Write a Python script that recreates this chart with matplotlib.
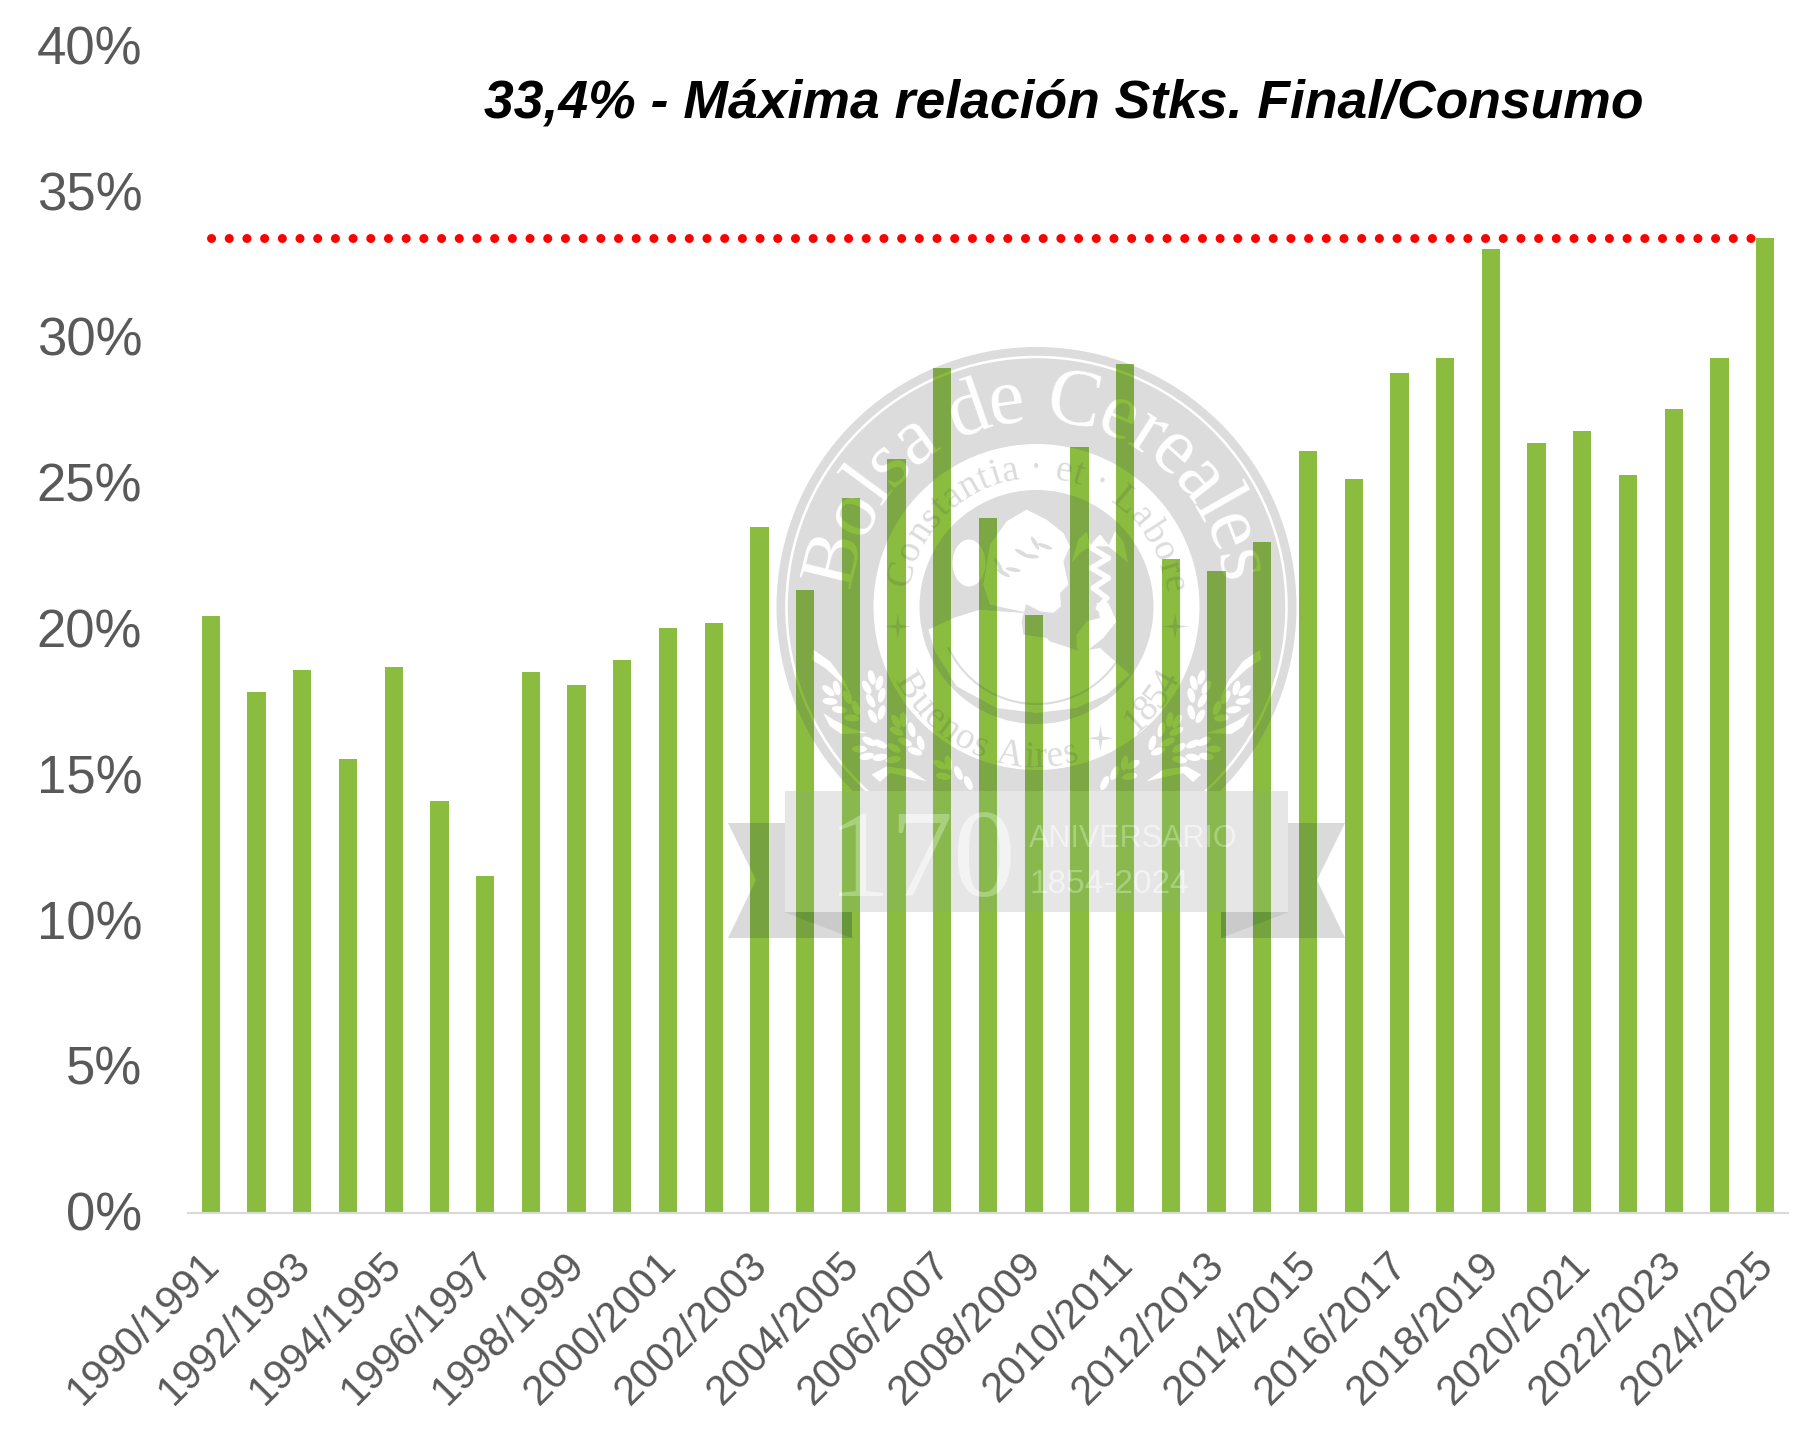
#!/usr/bin/env python3
# -*- coding: utf-8 -*-
import numpy as np
import matplotlib
matplotlib.use("Agg")
import matplotlib.pyplot as plt
from matplotlib.font_manager import FontProperties
from matplotlib.patches import Circle, Ellipse, Polygon, Rectangle
from matplotlib.path import Path
from matplotlib.textpath import text_to_path
from matplotlib.transforms import IdentityTransform, ScaledTranslation

# ------------------------------------------------------------
# Datos
# ------------------------------------------------------------
campanas = [f"{y}/{y + 1}" for y in range(1990, 2025)]
relacion = [20.45, 17.85, 18.6, 15.55, 18.7, 14.1, 11.55, 18.55, 18.1, 18.95,
            20.05, 20.2, 23.5, 21.35, 24.5, 25.85, 28.95, 23.8, 20.5, 26.25,
            29.1, 22.4, 22.0, 23.0, 26.1, 25.15, 28.8, 29.3, 33.05, 26.4,
            26.8, 25.3, 27.55, 29.3, 33.4]
maximo = 33.4
y_ticks = [0, 5, 10, 15, 20, 25, 30, 35, 40]
titulo = "33,4% - Máxima relación Stks. Final/Consumo"

W, H = 1816, 1429
VERDE = "#8ABD3F"
GRIS_TXT = "#595959"

plt.rcParams["font.family"] = ["Liberation Sans", "DejaVu Sans"]

# colores de la marca de agua: fuera y dentro de las barras
CAPA_FONDO = dict(fill="#DCDCDC", hole="#FFFFFF", ribbon="#E6E6E6", tail="#DADADA",
                  fold="#CACACA", label="#F3F3F3")
CAPA_BARRA = dict(fill="#7DA644", hole=VERDE, ribbon="#89B84E", tail="#76A340",
                  fold="#66953A", label="#A9D07C")

CX, CY = 1036.5, 607.0


def arc_text(put, s, r, a0, a1, size, color, bottom=False):
    """Texto letra por letra sobre un arco, de a0 a a1 en grados."""
    prop = FontProperties(family="Liberation Serif", size=size)
    widths = [text_to_path.get_text_width_height_descent(c, prop, False)[0] for c in s]
    total = sum(widths)
    pos = 0.0
    for ch, w in zip(s, widths):
        ang = a0 + (a1 - a0) * (pos + w / 2) / total
        pos += w
        rad = np.radians(ang)
        rot = ang + 90 if bottom else ang - 90
        put(CX + r * np.cos(rad), CY - r * np.sin(rad), ch, fontproperties=prop,
            color=color, ha="center", va="baseline", rotation=rot,
            rotation_mode="anchor", zorder=5)


def draw_seal(ax, c, clip=None, boxes=None):
    """Dibuja el sello de la Bolsa de Cereales en pixeles de la figura."""

    def finish(a):
        if clip is not None:
            a.set_clip_path(clip, IdentityTransform())
        return a

    def add(p):
        ax.add_patch(p)
        return finish(p)

    def put(x, y, s, **kw):
        # Agg no recorta el texto con clip_path, solo con clip_box: una copia por barra
        if boxes is None:
            ax.text(x, y, s, **kw)
            return
        for box in boxes:
            t = ax.text(x, y, s, **kw)
            t.set_clip_box(box)
            t.set_clip_on(True)

    def z4(pts):
        return [(900 + x / 3, 478 + y / 3) for x, y in pts]

    def z5(pts):
        return [(770 + x / 3, 618 + y / 3) for x, y in pts]

    def mirror(pts):
        return [(2 * CX - x, y) for x, y in pts]

    def star(ang, r, size):
        rad = np.radians(ang)
        x, y = CX + r * np.cos(rad), CY - r * np.sin(rad)
        t = size * 0.14
        pts = [(x, y - size), (x + t, y - t), (x + size, y), (x + t, y + t),
               (x, y + size), (x - t, y + t), (x - size, y), (x - t, y - t)]
        add(Polygon(pts, fc=c["fill"], ec="none", zorder=5))

    # discos
    add(Circle((CX, CY), 260, fc=c["fill"], ec="none", zorder=1))
    add(Circle((CX, CY), 250, fc="none", ec=c["hole"], lw=1.8, zorder=2))
    add(Circle((CX, CY), 163, fc=c["hole"], ec="none", zorder=2))
    add(Circle((CX, CY), 117, fc=c["fill"], ec="none", zorder=3))

    # ramas de trigo, en ambos lados
    hojas = [(305, 178, 75), (290, 208, 60), (328, 195, 105), (302, 248, 60), (335, 232, 105),
             (308, 295, 60), (335, 283, 105), (175, 218, 40), (200, 210, 75), (180, 250, 5),
             (208, 275, 10), (245, 300, 5), (232, 238, 60), (258, 270, 70), (297, 370, 30),
             (330, 378, 25), (290, 415, -10), (330, 418, -10), (370, 425, -10), (372, 390, 30),
             (268, 393, 0), (378, 310, 60), (400, 305, 85), (380, 340, 25), (425, 335, 75),
             (452, 375, 75), (405, 372, 25), (435, 400, 20), (510, 440, 30), (535, 435, 80),
             (520, 475, 10), (565, 465, 65), (595, 495, 65)]
    for hx, hy, ang in hojas:
        (x, y), = z5([(hx, hy)])
        add(Ellipse((x, y), 15, 7, angle=ang, fc=c["hole"], ec="none", zorder=2))
        add(Ellipse((2 * CX - x, y), 15, 7, angle=-ang, fc=c["hole"], ec="none", zorder=2))
    volutas = [[(130, 95), (180, 130), (225, 190), (250, 245), (215, 195), (165, 150), (125, 125)],
               [(160, 285), (190, 305), (240, 330), (290, 345), (215, 348), (180, 325)],
               [(305, 470), (350, 445), (420, 455), (470, 490), (420, 478), (360, 465), (330, 492)]]
    for v in volutas:
        add(Polygon(z5(v), fc=c["hole"], ec="none", zorder=2))
        add(Polygon(mirror(z5(v)), fc=c["hole"], ec="none", zorder=2))

    # figura central
    busto = [(320, 130), (380, 95), (440, 125), (490, 165), (510, 205), (490, 250), (505, 320),
             (480, 345), (483, 385), (460, 405), (420, 400), (378, 378), (372, 405), (300, 400),
             (240, 395), (160, 420), (85, 455), (105, 520), (170, 625), (290, 690), (410, 705),
             (530, 690), (620, 650), (690, 590), (600, 510), (540, 520), (450, 490), (440, 480),
             (370, 470), (365, 430), (372, 402), (270, 380), (250, 320), (270, 200)]
    add(Polygon(z4(busto), fc=c["hole"], ec="none", zorder=3))
    (bx, by), = z4([(207, 255)])
    add(Ellipse((bx, by), 33, 47, fc=c["hole"], ec="none", zorder=3))
    brazo = [(530, 470), (560, 430), (600, 420), (590, 375), (625, 375), (650, 430),
             (610, 480), (565, 515), (640, 600), (600, 610), (530, 510)]
    add(Polygon(z4(brazo), fc=c["hole"], ec="none", zorder=3))
    ala_i = [(515, 255), (535, 185), (560, 160), (570, 205), (540, 225)]
    ala_d = [(685, 255), (670, 190), (645, 160), (625, 205), (650, 225)]
    add(Polygon(z4(ala_i), fc=c["hole"], ec="none", zorder=3))
    add(Polygon(z4(ala_d), fc=c["hole"], ec="none", zorder=3))
    serp_y = [180, 210, 240, 270, 300, 330, 360, 390]
    serp_x = [600, 575, 625, 575, 625, 580, 620, 595]
    add(Polygon(z4([(575, 205), (600, 170), (630, 205)]), fc=c["hole"], ec="none", zorder=3))
    for a, b in zip(zip(serp_x[:-1], serp_y[:-1]), zip(serp_x[1:], serp_y[1:])):
        pts = z4([a, b])
        finish(ax.plot(*zip(*pts), color=c["hole"], lw=4, solid_capstyle="round", zorder=3)[0])
    # laurel
    for lx, ly, ang in [(310, 285, 30), (340, 275, 10), (365, 225, 30), (395, 235, 5),
                        (405, 195, 60), (435, 205, 20), (295, 260, 60)]:
        (x, y), = z4([(lx, ly)])
        add(Ellipse((x, y), 15, 4, angle=ang, fc=c["fill"], ec="none", zorder=4))
    # arco fino inferior
    t = np.radians(np.linspace(205, 335, 60))
    finish(ax.plot(CX + 97 * np.cos(t), CY - 97 * np.sin(t), color=c["fill"], lw=1.5, zorder=4)[0])

    # textos del sello
    arc_text(put, "Bolsa de Cereales", 186, 174, 7, 58, c["hole"])
    arc_text(put, "Constantia · et · Labore", 129, 172, 6, 27, c["fill"])
    arc_text(put, "Buenos Aires", 160, 207, 286, 27, c["fill"], bottom=True)
    arc_text(put, "1854", 160, 308, 333, 27, c["fill"], bottom=True)
    star(188, 140, 13)
    star(-8, 140, 13)
    star(296, 146, 13)

    # cinta
    izq = [(728, 823), (790, 823), (790, 912), (852, 912), (852, 938), (728, 938), (756, 880)]
    add(Polygon(izq, fc=c["tail"], ec="none", zorder=6))
    add(Polygon(mirror(izq), fc=c["tail"], ec="none", zorder=6))
    pliegue = [(784, 912), (852, 912), (852, 938)]
    add(Polygon(pliegue, fc=c["fold"], ec="none", zorder=7))
    add(Polygon(mirror(pliegue), fc=c["fold"], ec="none", zorder=7))
    add(Rectangle((785, 791), 503, 121, fc=c["ribbon"], ec="none", zorder=8))
    put(922, 896, "170", family=["Liberation Serif", "DejaVu Serif"], fontsize=90,
        color=c["label"], ha="center", va="baseline", zorder=9)
    put(1029, 847, "ANIVERSARIO", family=["Liberation Sans", "DejaVu Sans"], fontsize=22,
        color=c["label"], ha="left", va="baseline", zorder=9)
    put(1029, 893, "1854-2024", family=["Liberation Sans", "DejaVu Sans"], fontsize=24,
        color=c["label"], ha="left", va="baseline", zorder=9)


def pixel_axes(fig, zorder):
    a = fig.add_axes([0, 0, 1, 1], zorder=zorder)
    a.set_xlim(0, W)
    a.set_ylim(H, 0)
    a.axis("off")
    a.patch.set_alpha(0)
    return a


def main():
    fig = plt.figure(figsize=(W / 100, H / 100), dpi=100, facecolor="white")

    draw_under = pixel_axes(fig, 0)

    # pixeles del area de grafico
    left, right, top, bottom = 188, 1788, 46, 1212.5
    ax = fig.add_axes([left / W, 1 - bottom / H, (right - left) / W, (bottom - top) / H], zorder=1)
    ax.patch.set_alpha(0)

    x = np.arange(len(campanas))
    bars = ax.bar(x, relacion, width=0.4, color=VERDE, zorder=2)
    ax.plot(x[[0, -1]], [maximo, maximo], color="#FF0000", lw=6.5, zorder=3,
            linestyle=(0, (0.01, 1.95)), dash_capstyle="round")

    ax.set_xlim(-0.5, len(campanas) - 0.5)
    ax.set_ylim(0, 40)
    ax.set_yticks(y_ticks)
    ax.set_yticklabels([f"{v}%" for v in y_ticks], fontsize=38, color=GRIS_TXT)
    ax.set_xticks(x[::2])
    ax.set_xticklabels(campanas[::2], fontsize=30, color=GRIS_TXT, rotation=45,
                       ha="right", va="top", rotation_mode="anchor")
    ax.tick_params(axis="y", length=0, pad=33)
    ax.tick_params(axis="x", length=0, pad=23)
    up = ScaledTranslation(0, 1.2 / 100, fig.dpi_scale_trans)
    for lab in ax.get_yticklabels():
        lab.set_transform(lab.get_transform() + up)
    back = ScaledTranslation(-12 / 100, 0, fig.dpi_scale_trans)
    for lab in ax.get_xticklabels():
        lab.set_transform(lab.get_transform() + back)
    for side in ["top", "left", "right"]:
        ax.spines[side].set_visible(False)
    ax.spines["bottom"].set_color("#D9D9D9")
    ax.spines["bottom"].set_linewidth(1.5)

    fig.text(1063.5 / W, 1 - 118 / H, titulo, fontsize=38.5, fontweight="bold", fontstyle="italic",
             color="black", ha="center", va="baseline")

    # marca de agua: debajo de las barras y, recortada, sobre ellas
    draw_seal(draw_under, CAPA_FONDO)
    bar_paths = [b.get_path().transformed(b.get_transform()) for b in bars]
    clip = Path.make_compound_path(*bar_paths)
    boxes = [b.get_window_extent() for b in bars
             if 720 < b.get_window_extent().x0 < 1350]
    draw_over = pixel_axes(fig, 2)
    draw_seal(draw_over, CAPA_BARRA, clip=clip, boxes=boxes)

    fig.savefig("out.png", dpi=100)
    plt.close(fig)


if __name__ == "__main__":
    main()
